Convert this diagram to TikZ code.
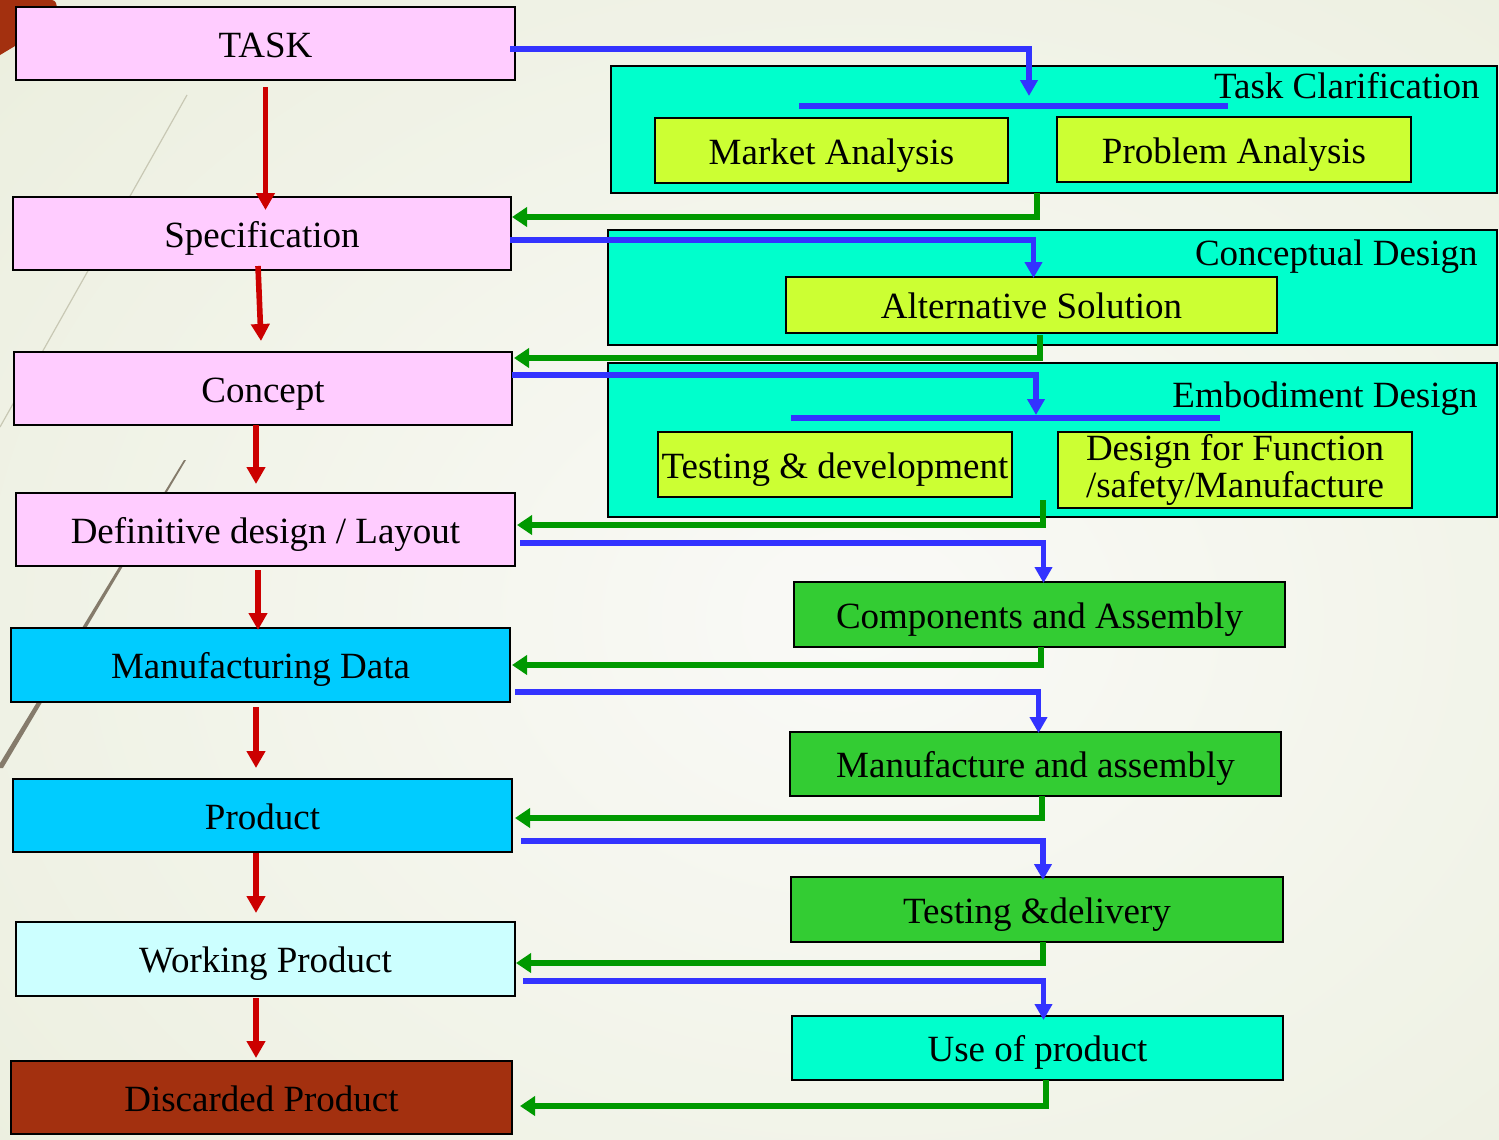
\documentclass[tikz,border=0pt]{standalone}
\usepackage{fontspec}
\setmainfont{Liberation Serif}
\usetikzlibrary{arrows.meta,calc}

\definecolor{pinkc}{HTML}{FFCCFF}
\definecolor{skyc}{HTML}{00CCFF}
\definecolor{icec}{HTML}{CCFFFF}
\definecolor{brownc}{HTML}{A3300F}
\definecolor{aquac}{HTML}{00FFCC}
\definecolor{limec}{HTML}{CCFF33}
\definecolor{grnc}{HTML}{33CC33}
\definecolor{redc}{HTML}{CC0000}
\definecolor{bluec}{HTML}{3333FF}
\definecolor{grnarrc}{HTML}{009900}
\definecolor{bgedge}{HTML}{E4E9D2}
\definecolor{bgmid}{HTML}{FAFAF7}
\definecolor{streak}{HTML}{857B6B}
\definecolor{faint}{HTML}{C8C8B4}

\tikzset{
  box/.style={draw=black, line width=1.4pt, inner sep=0pt, outer sep=0pt,
              font=\fontsize{18.5}{18.5}\selectfont, align=center},
  oneline/.style={box, text height=13.5pt, text depth=0pt},
  grouplabel/.style={inner sep=0pt, font=\fontsize{18.5}{18.5}\selectfont},
  redarr/.style={draw=redc, line width=2.8pt, -{Triangle[width=9pt,length=8.5pt]}},
  bluearr/.style={draw=bluec, line width=2.7pt, -{Triangle[width=8.5pt,length=8pt]}},
  grnarr/.style={draw=grnarrc, line width=2.9pt, -{Triangle[width=9.5pt,length=7.5pt]}},
  bar/.style={draw=bluec, line width=2.7pt},
}

\begin{document}
\begin{tikzpicture}[x=0.5pt,y=-0.5pt]
\useasboundingbox (0,0) rectangle (1499,1140);

% backdrop
\begin{scope}
  \clip (0,0) rectangle (1499,1140);
  \fill[bgedge] (0,0) rectangle (1499,1140);
  \shade[inner color=bgmid, outer color=bgedge] (860,620) ellipse [x radius=1750, y radius=1350];
  \fill[brownc] (0,0) -- (52,0) to[out=0,in=60] (56,8) -- (15,46) -- (0,55) -- cycle;
  \draw[faint, line width=0.6pt] (187,95) -- (0,427);
  \fill[streak] (184,460) -- (186,460) -- (3,768) -- (-3,768) -- cycle;
\end{scope}

% phase boxes, left column
\node[oneline, fill=pinkc, minimum width=249.5pt, minimum height=36.5pt] (task) at (265.5,43.5) {TASK};
\node[oneline, fill=pinkc, minimum width=249pt, minimum height=36.5pt] (spec) at (262,233.5) {Specification};
\node[oneline, fill=pinkc, minimum width=249pt, minimum height=36.5pt] (concept) at (263,388.5) {Concept};
\node[oneline, fill=pinkc, minimum width=249.5pt, minimum height=36.5pt] (defin) at (265.5,529.5) {Definitive design / Layout};
\node[oneline, fill=skyc, minimum width=249.5pt, minimum height=37pt] (mdata) at (260.5,665) {Manufacturing Data};
\node[oneline, fill=skyc, minimum width=249.5pt, minimum height=36.5pt] (product) at (262.5,815.5) {Product};
\node[oneline, fill=icec, minimum width=249.5pt, minimum height=37pt] (working) at (265.5,959) {Working Product};
\node[oneline, fill=brownc, minimum width=250.5pt, minimum height=36.5pt] (discard) at (261.5,1097.5) {Discarded Product};

% activity groups, right column
\node[box, fill=aquac, minimum width=443pt, minimum height=63.5pt] (tc) at (1054,129.5) {};
\node[box, fill=aquac, minimum width=444.5pt, minimum height=57.5pt] (cd) at (1052.5,287.5) {};
\node[box, fill=aquac, minimum width=444.5pt, minimum height=77pt] (ed) at (1052.5,440) {};

\node[grouplabel, anchor=base east] (tclabel) at (1480,98) {Task Clarification};
\node[grouplabel, anchor=base east] (cdlabel) at (1478,265) {Conceptual Design};
\node[grouplabel, anchor=base east] (edlabel) at (1478,407) {Embodiment Design};

% distribution bars inside the groups
\coordinate (tcbarL) at (799,106);
\coordinate (tcbarR) at (1228,106);
\coordinate (edbarL) at (791,418);
\coordinate (edbarR) at (1220,418);
\draw[bar] (tcbarL) -- (tcbarR);
\draw[bar] (edbarL) -- (edbarR);
\coordinate (tcin) at (1029,96);
\coordinate (edin) at (1036,415);

\node[oneline, fill=limec, minimum width=176.5pt, minimum height=32.5pt] (ma) at (831.5,150.5) {Market Analysis};
\node[oneline, fill=limec, minimum width=177pt, minimum height=32.5pt] (pa) at (1234,149.5) {Problem Analysis};
\node[oneline, fill=limec, minimum width=245.5pt, minimum height=28pt] (alt) at (1031.5,305) {Alternative Solution};
\node[oneline, fill=limec, minimum width=177pt, minimum height=32.5pt] (td) at (835,464.5) {Testing \& development};
\node[box, fill=limec, minimum width=177pt, minimum height=38pt] (dff) at (1235,470) {Design for Function\\/safety/Manufacture};

\node[oneline, fill=grnc, minimum width=245.5pt, minimum height=32.5pt] (ca) at (1039.5,614.5) {Components and Assembly};
\node[oneline, fill=grnc, minimum width=245.5pt, minimum height=32pt] (mfa) at (1035.5,764) {Manufacture and assembly};
\node[oneline, fill=grnc, minimum width=246pt, minimum height=32.5pt] (tdl) at (1037,909.5) {Testing \&delivery};
\node[oneline, fill=aquac, minimum width=245.5pt, minimum height=32pt] (use) at (1037.5,1048) {Use of product};

% main sequence
\draw[redarr] ($(task.south)+(0,7)$) -- ($(task.south |- spec.north)+(0,13)$);
\draw[redarr] ($(spec.south)+(-4,-4)$) -- ($(concept.north)+(-2,-11)$);
\draw[redarr] ($(concept.south)+(-7,0)$) -- ($(defin.north)+(-9.5,-9)$);
\draw[redarr] ($(defin.south)+(-7.5,4)$) -- ($(mdata.north)+(-2.5,2)$);
\draw[redarr] ($(mdata.south)+(-4.5,5)$) -- ($(product.north)+(-6.5,-11)$);
\draw[redarr] ($(product.south)+(-6.5,1)$) -- ($(working.north)+(-9.5,-9)$);
\draw[redarr] ($(working.south)+(-9.5,2)$) -- ($(discard.north)+(-5.5,-3)$);

% hand-over to each activity
\draw[bluearr] ($(task.east)+(-5,5.5)$) -| (tcin);
\draw[bluearr] ($(spec.east)+(-1,6.5)$) -| ($(alt.north)+(2,1)$);
\draw[bluearr] ($(concept.east)+(0,-13.5)$) -| (edin);
\draw[bluearr] ($(defin.east)+(5,13.5)$) -| ($(ca.north)+(4,1)$);
\draw[bluearr] ($(mdata.east)+(5,27)$) -| ($(mfa.north)+(3,1)$);
\draw[bluearr] ($(product.east)+(9,25.5)$) -| ($(tdl.north)+(6,3)$);
\draw[bluearr] ($(working.east)+(8,22)$) -| ($(use.north)+(6,4)$);

% results fed back
\draw[grnarr] ($(tc.south)+(-17,0)$) |- ($(spec.east)+(1,-16.5)$);
\draw[grnarr] ($(alt.south)+(8.5,2)$) |- ($(concept.east)+(2,-30.5)$);
\draw[grnarr] ($(ed.south)+(-9.5,-17)$) |- ($(defin.east)+(2,-4.5)$);
\draw[grnarr] ($(ca.south)+(1.5,0)$) |- ($(mdata.east)+(2,0)$);
\draw[grnarr] ($(mfa.south)+(6.5,0)$) |- ($(product.east)+(3,2.5)$);
\draw[grnarr] ($(tdl.south)+(6,0)$) |- ($(working.east)+(1,4)$);
\draw[grnarr] ($(use.south)+(8.5,0)$) |- ($(discard.east)+(8,8.5)$);
\end{tikzpicture}
\end{document}
